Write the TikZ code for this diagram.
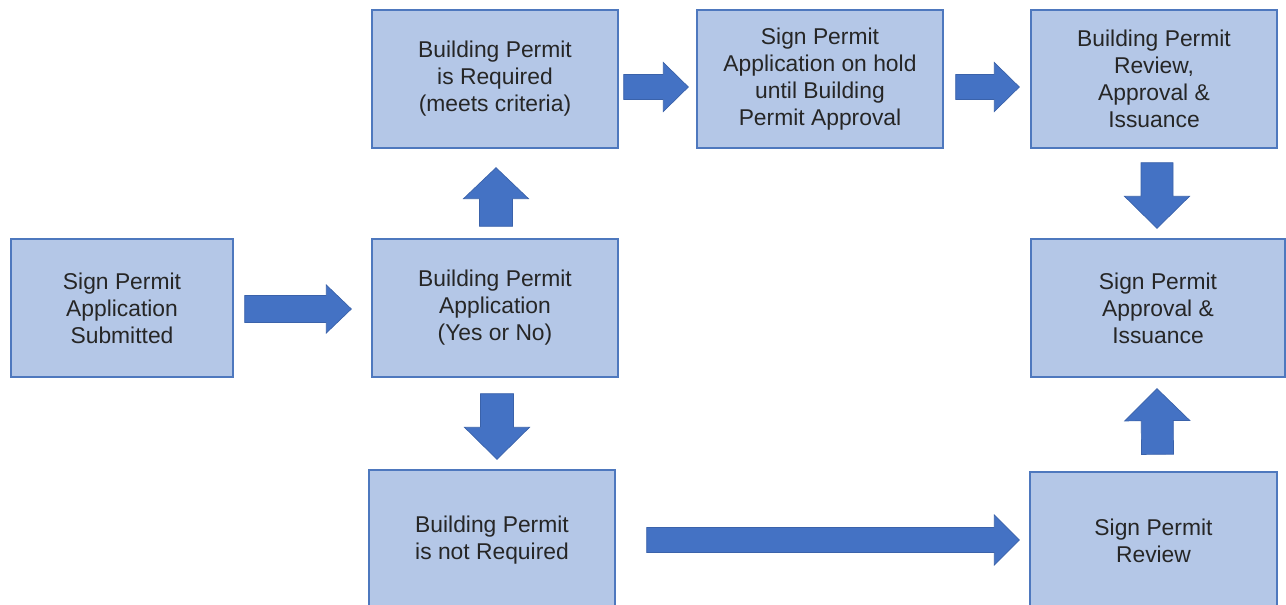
\documentclass[tikz,border=0pt]{standalone}
\usepackage{fontspec}
\setmainfont{Liberation Sans}
\usetikzlibrary{calc}
\definecolor{boxfill}{HTML}{B4C7E7}
\definecolor{boxline}{HTML}{4E78BE}
\definecolor{arrfill}{HTML}{4472C4}
\definecolor{arrline}{HTML}{3A62AA}
\definecolor{txt}{HTML}{262626}
\tikzset{
  box/.style={draw=boxline, fill=boxfill, line width=0.8pt, inner sep=0pt,
    minimum width=4.92cm, minimum height=2.76cm, align=center, text=txt,
    font=\fontsize{13pt}{15.4pt}\selectfont},
  blockarrow/.style={fill=arrfill, draw=arrline, line width=0.4pt, line join=miter}
}
% #1 start, #2 tip, #3 shaft half-width, #4 head half-width, #5 head length (lengths)
\newcommand\barrow[5]{%
  \draw[blockarrow]
    ($(#1)!#3!90:(#2)$) --
    ($($(#2)!#5!(#1)$)!#3!-90:(#1)$) --
    ($($(#2)!#5!(#1)$)!#4!-90:(#1)$) --
    (#2) --
    ($($(#2)!#5!(#1)$)!#4!90:(#1)$) --
    ($($(#2)!#5!(#1)$)!#3!90:(#1)$) --
    ($(#1)!#3!-90:(#2)$) -- cycle;}
\begin{document}
\begin{tikzpicture}[x=0.02cm,y=-0.02cm]
\useasboundingbox (0,0) rectangle (1286,605);
\node[box, minimum width=4.44cm] (A) at (122,308) {Sign Permit\\Application\\Submitted};
\node[box] (B) at (495,308) {Building Permit\\Application\\(Yes or No)};
\node[box] (C) at (495,79) {Building Permit\\is Required\\(meets criteria)};
\node[box] (D) at (820,79) {Sign Permit\\Application on hold\\until Building\\Permit Approval};
\node[box] (E) at (1154,79) {Building Permit\\Review,\\Approval \&\\Issuance};
\node[box, minimum width=5.08cm] (F) at (1158,308) {Sign Permit\\Approval \&\\Issuance};
\node[box, minimum height=2.8cm] (G) at (492,540) {Building Permit\\is not Required};
\node[box, minimum width=4.94cm] (H) at (1153.5,541) {Sign Permit\\Review};

\coordinate (ab1) at ($(A.east)+(11,1)$);
\coordinate (ab2) at ($(B.west)+(-20,1)$);
\barrow{ab1}{ab2}{0.27cm}{0.48cm}{0.5cm}
\coordinate (bc1) at ($(B.north)+(1,-12)$);
\coordinate (bc2) at ($(C.south)+(1,19)$);
\barrow{bc1}{bc2}{0.33cm}{0.65cm}{0.62cm}
\coordinate (cd1) at ($(C.east)+(5,8)$);
\coordinate (cd2) at ($(D.west)+(-8,8)$);
\barrow{cd1}{cd2}{0.25cm}{0.49cm}{0.5cm}
\coordinate (de1) at ($(D.east)+(12,8)$);
\coordinate (de2) at ($(E.west)+(-11,8)$);
\barrow{de1}{de2}{0.25cm}{0.49cm}{0.5cm}
\coordinate (bg1) at ($(B.south)+(2,16)$);
\coordinate (bg2) at ($(G.north)+(5,-10)$);
\barrow{bg1}{bg2}{0.33cm}{0.65cm}{0.64cm}
\coordinate (gh1) at ($(G.east)+(31,0)$);
\coordinate (gh2) at ($(H.west)+(-10,-1)$);
\barrow{gh1}{gh2}{0.25cm}{0.5cm}{0.5cm}
\coordinate (ef1) at ($(E.south)+(3,14)$);
\coordinate (ef2) at ($(F.north)+(-1,-10)$);
\barrow{ef1}{ef2}{0.32cm}{0.65cm}{0.64cm}
\coordinate (hf1) at ($(H.north)+(4,-17)$);
\coordinate (hf2) at ($(F.south)+(-1,11)$);
\barrow{hf1}{hf2}{0.32cm}{0.65cm}{0.64cm}
\end{tikzpicture}
\end{document}
